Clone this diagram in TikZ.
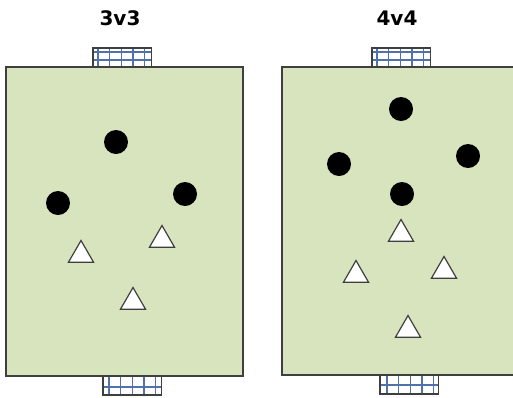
\documentclass[tikz,border=0pt]{standalone}
\usepackage{fontspec}
\newfontfamily\titlefont{DejaVu Sans}
\usepackage{xcolor}
\definecolor{PitchGreen}{HTML}{D7E4BD}
\definecolor{LineGray}{HTML}{3F3F3F}
\definecolor{NetBlue}{HTML}{4F72AA}
\usepackage{tikz}
\usetikzlibrary{shapes.geometric}

\begin{document}
\begin{tikzpicture}[
    x=1pt, y=-1pt,
    pitch/.style={draw=LineGray, fill=PitchGreen, line width=1.3pt},
    netframe/.style={draw=LineGray, fill=white, line width=1.4pt},
    netline/.style={draw=NetBlue, line width=1.3pt},
    attacker/.style={circle, fill=black, minimum size=24pt, inner sep=0pt},
    defender/.style={regular polygon, regular polygon sides=3, draw=LineGray, fill=white,
                     line width=1.2pt, minimum size=29pt, inner sep=0pt},
    title/.style={font=\titlefont\bfseries\fontsize{20}{22}\selectfont}
  ]
    \useasboundingbox (0,0) rectangle (513,397);

    % goals (left x, top y, bottom y, first line offset)
    \foreach \gx/\gt/\gb/\go in {93/48/67/5, 103/368/395/6, 372/48/67/5, 380/368/394/7} {
      \fill[white] (\gx,\gt) rectangle ({\gx+58.5},\gb);
      \foreach \i in {0,...,4}
        \draw[netline] ({\gx+\go+\i*11.7},\gt) -- ({\gx+\go+\i*11.7},\gb);
    }
    \foreach \gx in {93,372} {
      \draw[netline] (\gx,52) -- ({\gx+58.5},52);
      \draw[netline] (\gx,60) -- ({\gx+58.5},60);
      \draw[netframe, fill=none] (\gx,48) rectangle ({\gx+58.5},67);
    }
    \draw[netline] (103,387) -- (161.5,387);
    \draw[netline] (380,385) -- (438.5,385);

    % pitches
    \draw[pitch] (6,67) rectangle (243,376);
    \draw[pitch] (282,67) rectangle (519,375);
    \draw[netframe, fill=none] (103,376) -- (103,395) -- (161.5,395) -- (161.5,376);
    \draw[netframe, fill=none] (380,375) -- (380,394) -- (438.5,394) -- (438.5,375);

    \node[title] (t3) at (120,18) {3v3};
    \node[title] (t4) at (397,18) {4v4};

    % 3v3
    \node[attacker] (a1) at (116,142) {};
    \node[attacker] (a2) at (58,203) {};
    \node[attacker] (a3) at (185,194) {};
    \node[defender] (d1) at (81,255) {};
    \node[defender] (d2) at (162,240) {};
    \node[defender] (d3) at (133,302) {};

    % 4v4
    \node[attacker] (b1) at (401,109) {};
    \node[attacker] (b2) at (339,164) {};
    \node[attacker] (b3) at (468,156) {};
    \node[attacker] (b4) at (402,194) {};
    \node[defender] (e1) at (401,234) {};
    \node[defender] (e2) at (356,275) {};
    \node[defender] (e3) at (444,271) {};
    \node[defender] (e4) at (408,330) {};
  \end{tikzpicture}
\end{document}
